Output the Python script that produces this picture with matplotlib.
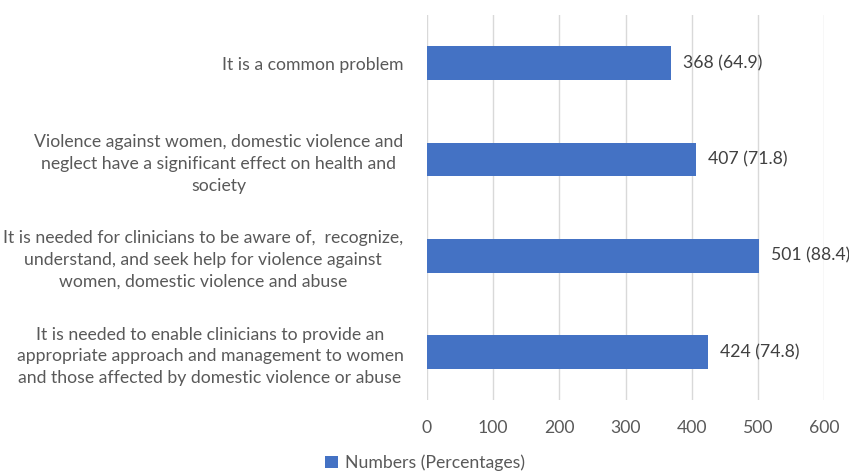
import matplotlib.pyplot as plt

plt.rcParams['font.family'] = ['Lato', 'DejaVu Sans']

categories = [
    'It is a common problem',
    'Violence against women, domestic violence and\nneglect have a significant effect on health and\nsociety',
    'It is needed for clinicians to be aware of,  recognize,\nunderstand, and seek help for violence against\nwomen, domestic violence and abuse',
    'It is needed to enable clinicians to provide an\nappropriate approach and management to women\nand those affected by domestic violence or abuse',
]
numbers = [368, 407, 501, 424]
percentages = [64.9, 71.8, 88.4, 74.8]
xticks = [0, 100, 200, 300, 400, 500, 600]

fig = plt.figure(figsize=(8.49, 4.73), dpi=100)
ax = fig.add_axes([0.503, 0.154, 0.4677, 0.814])

ypos = list(range(len(categories)))
bars = ax.barh(ypos, numbers, height=0.35, color='#4472C4', zorder=3,
               label='Numbers (Percentages)')
for y, n, p in zip(ypos, numbers, percentages):
    ax.text(n + 18, y, f'{n} ({p})', va='center', ha='left',
            fontsize=12.7, color='#404040', zorder=4)

ax.set_xlim(0, 600)
ax.set_ylim(len(categories) - 0.5, -0.5)
ax.set_xticks(xticks)
ax.set_yticks(ypos)
ax.set_yticklabels(categories)
ax.tick_params(axis='y', length=0, pad=17, labelsize=12.7, labelcolor='#595959')
ax.tick_params(axis='x', length=0, pad=14, labelsize=12.7, labelcolor='#595959')
for lbl in ax.get_yticklabels():
    lbl.set_horizontalalignment('right')
    lbl.set_multialignment('center')
    lbl.set_linespacing(1.45)
ax.grid(axis='x', color='#D9D9D9', linewidth=1, zorder=0)
for s in ax.spines.values():
    s.set_visible(False)

ax.legend(loc='upper center', bbox_to_anchor=(-0.005, -0.10), frameon=False,
          fontsize=12.7, labelcolor='#595959', handlelength=0.7, handleheight=0.7,
          handletextpad=0.4)

fig.savefig('out.png', dpi=100)
